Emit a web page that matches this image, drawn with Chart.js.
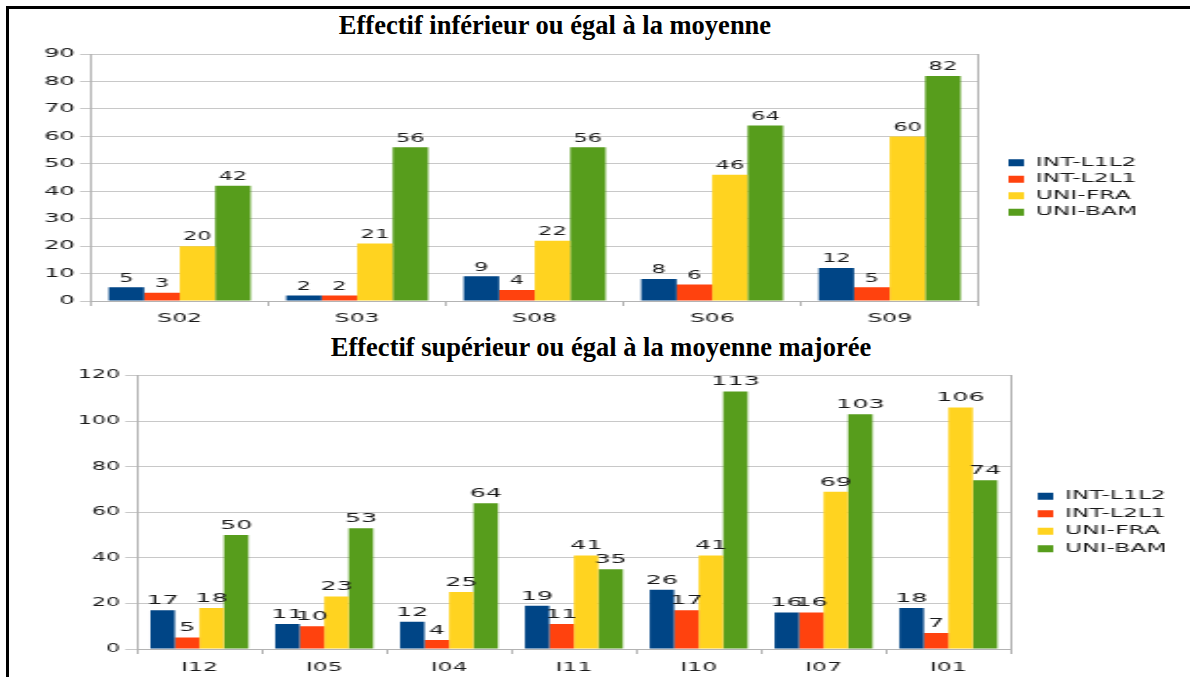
<!DOCTYPE html>
<html>
<head>
<meta charset="utf-8">
<script src="https://cdn.jsdelivr.net/npm/chart.js@4.4.1/dist/chart.umd.min.js"></script>
<style>
  body { margin: 0; background: #fff; width: 1190px; height: 677px; overflow: hidden; position: relative; }
  .frame { position: absolute; left: 6px; top: 6px; width: 1300px; height: 800px; border-top: 3px solid #000; border-left: 3px solid #000; }
  .titre { position: absolute; font: bold 26.5px 'Liberation Serif', serif; color: #000; white-space: nowrap; transform: translateX(-50%); line-height: 30px; }
  /* the charts are drawn narrow and stretched sideways */
  canvas { position: absolute; transform-origin: 0 0; transform: scaleX(1.95); }
</style>
</head>
<body>
<div class="frame"></div>
<div class="titre" style="left:555px; top:10px;">Effectif inférieur ou égal à la moyenne</div>
<canvas id="chart1" width="588" height="287" style="left:10px; top:44px;"></canvas>
<div class="titre" style="left:601px; top:332px;">Effectif supérieur ou égal à la moyenne majorée</div>
<canvas id="chart2" width="603" height="313" style="left:10px; top:366px;"></canvas>

<script>
// series names and colours
const seriesNames = ['INT-L1L2', 'INT-L2L1', 'UNI-FRA', 'UNI-BAM'];
const seriesColors = ['#004586', '#ff420e', '#ffd320', '#579d1c'];

// first chart: effectif <= moyenne
const sujetsInf = ['S02', 'S03', 'S08', 'S06', 'S09'];
const infL1L2 = [5, 2, 9, 8, 12];
const infL2L1 = [3, 2, 4, 6, 5];
const infFra = [20, 21, 22, 46, 60];
const infBam = [42, 56, 56, 64, 82];

// second chart: effectif >= moyenne majorée
const sujetsSup = ['I12', 'I05', 'I04', 'I11', 'I10', 'I07', 'I01'];
const supL1L2 = [17, 11, 12, 19, 26, 16, 18];
const supL2L1 = [5, 10, 4, 11, 17, 16, 7];
const supFra = [18, 23, 25, 41, 41, 69, 106];
const supBam = [50, 53, 64, 35, 113, 103, 74];

Chart.defaults.font.family = "'DejaVu Sans', sans-serif";
Chart.defaults.color = '#1a1a1a';

// writes each bar's value just above it
const valueLabels = {
    id: 'valueLabels',
    afterDatasetsDraw(chart, args, opts) {
        const ctx = chart.ctx;
        ctx.save();
        ctx.font = opts.size + "px 'DejaVu Sans', sans-serif";
        ctx.fillStyle = '#1a1a1a';
        ctx.textAlign = 'center';
        ctx.textBaseline = 'bottom';
        chart.data.datasets.forEach((ds, i) => {
            chart.getDatasetMeta(i).data.forEach((bar, j) => {
                ctx.fillText(ds.data[j], bar.x, bar.y - 3);
            });
        });
        ctx.restore();
    }
};

function makeChart(id, labels, values, yMax, yStep, lay) {
    const datasets = values.map((v, i) => ({
        label: seriesNames[i],
        data: v,
        backgroundColor: seriesColors[i],
        categoryPercentage: lay.catPct,
        barPercentage: 1
    }));
    return new Chart(document.getElementById(id), {
        type: 'bar',
        data: { labels: labels, datasets: datasets },
        options: {
            responsive: false,
            animation: false,
            layout: { padding: 0 },
            plugins: {
                legend: {
                    position: 'right',
                    labels: {
                        boxWidth: 8,
                        boxHeight: 7,
                        padding: lay.legendPad,
                        font: { size: 12 },
                        color: '#1a1a1a'
                    }
                },
                tooltip: { enabled: false },
                valueLabels: { size: lay.valueSize }
            },
            scales: {
                x: {
                    grid: { offset: true, drawOnChartArea: false, tickLength: 5, color: '#b3b3b3' },
                    border: { color: '#b3b3b3' },
                    ticks: { padding: lay.xPad, font: { size: 12 } },
                    afterFit: s => { s.height = 30; }
                },
                y: {
                    min: 0,
                    max: yMax,
                    ticks: { stepSize: yStep, padding: lay.tickPad, font: { size: lay.tickSize } },
                    grid: { color: '#c8c8c8', tickLength: lay.tickLen },
                    border: { color: '#b3b3b3' },
                    afterFit: s => { s.width = lay.yWidth; }
                },
                frame: {
                    position: 'right',
                    ticks: { display: false },
                    grid: { display: false },
                    border: { color: '#b3b3b3' },
                    afterFit: s => { s.width = lay.frameWidth; }
                }
            }
        },
        plugins: [valueLabels]
    });
}

makeChart('chart1', sujetsInf, [infL1L2, infL2L1, infFra, infBam], 90, 10, {
    catPct: 0.8, legendPad: 4.5, valueSize: 11.5, tickSize: 12.5, tickPad: 2.6, tickLen: 5.6,
    xPad: 6, yWidth: 41.5, frameWidth: 10.9
});
makeChart('chart2', sujetsSup, [supL1L2, supL2L1, supFra, supBam], 120, 20, {
    catPct: 0.785, legendPad: 5.5, valueSize: 13, tickSize: 11.4, tickPad: 2.7, tickLen: 6,
    xPad: 7, yWidth: 65.1, frameWidth: 8.3
});
</script>
</body>
</html>
